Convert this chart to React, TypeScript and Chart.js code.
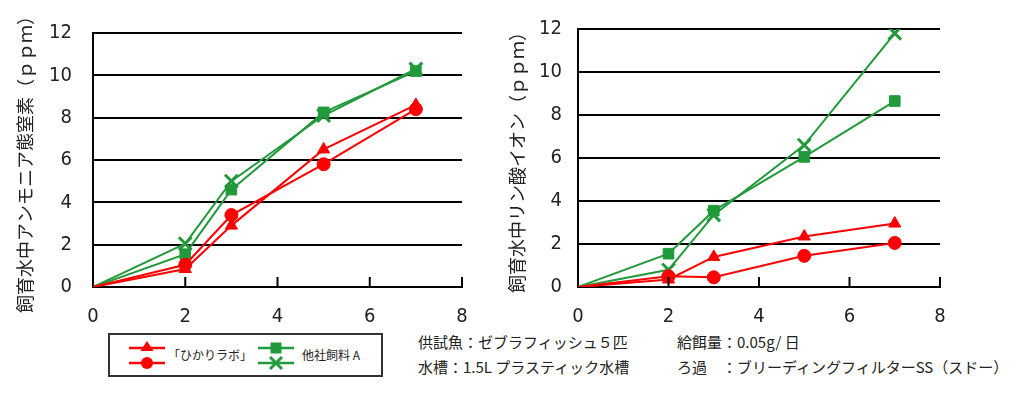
import React, { useEffect, useRef } from "react";
import { Chart, registerables } from "chart.js";

Chart.register(...registerables);

// ---- data ----
const days = [0, 2, 3, 5, 7];
const xTickValues = [0, 2, 4, 6, 8];
const yTickValues = [0, 2, 4, 6, 8, 10, 12];

// ammonia nitrogen (ppm)
const ammoniaHikariTri = [0, 0.85, 2.9, 6.5, 8.6];
const ammoniaHikariCircle = [0, 1.05, 3.4, 5.8, 8.4];
const ammoniaOtherSquare = [0, 1.55, 4.6, 8.25, 10.2];
const ammoniaOtherCross = [0, 2.05, 5.0, 8.1, 10.3];

// phosphate ion (ppm)
const phosphateHikariTri = [0, 0.35, 1.4, 2.35, 2.95];
const phosphateHikariCircle = [0, 0.5, 0.45, 1.45, 2.05];
const phosphateOtherSquare = [0, 1.55, 3.55, 6.05, 8.65];
const phosphateOtherCross = [0, 0.8, 3.35, 6.6, 11.8];

const leftTitle = "飼育水中アンモニア態窒素（ｐｐｍ）";
const rightTitle = "飼育水中リン酸イオン（ｐｐｍ）";
const seriesNames = ["「ひかりラボ」▲", "「ひかりラボ」●", "他社飼料 A ■", "他社飼料 A ×"];

const RED = "#ff0000";
const GREEN = "#22993a";
const NUM_FONT = "'Liberation Sans Narrow', 'DejaVu Sans Condensed', 'Liberation Sans', sans-serif";
const JP_FONT = "'Noto Sans CJK JP', sans-serif";

const toPts = (vals: number[]) => days.map((d, i) => ({ x: d, y: vals[i] }));

const innerTicks = {
  id: "innerTicks",
  afterDraw(chart: any) {
    const xs = chart.scales.x;
    const { ctx, chartArea } = chart;
    ctx.save();
    ctx.strokeStyle = "#000";
    ctx.lineWidth = 2;
    xTickValues.forEach((v) => {
      if (v === 0) return;
      const px = xs.getPixelForValue(v);
      ctx.beginPath();
      ctx.moveTo(px, chartArea.bottom);
      ctx.lineTo(px, chartArea.bottom - 10);
      ctx.stroke();
    });
    ctx.restore();
  },
};

const radiusSkipOrigin = (r: number) => (c: any) => (c.dataIndex === 0 ? 0 : r);

function makeDatasets(tri: number[], circ: number[], sq: number[], cross: number[]) {
  return [
    { label: seriesNames[0], data: toPts(tri), borderColor: RED, backgroundColor: RED, pointStyle: "triangle", pointRadius: radiusSkipOrigin(7), borderWidth: 2, pointBorderWidth: 1 },
    { label: seriesNames[1], data: toPts(circ), borderColor: RED, backgroundColor: RED, pointStyle: "circle", pointRadius: radiusSkipOrigin(6.5), borderWidth: 2, pointBorderWidth: 1 },
    { label: seriesNames[2], data: toPts(sq), borderColor: GREEN, backgroundColor: GREEN, pointStyle: "rect", pointRadius: radiusSkipOrigin(7.5), borderWidth: 2, pointBorderWidth: 1 },
    { label: seriesNames[3], data: toPts(cross), borderColor: GREEN, backgroundColor: GREEN, pointStyle: "crossRot", pointRadius: radiusSkipOrigin(9), borderWidth: 2, pointBorderWidth: 3 },
  ];
}

function makeConfig(datasets: any[], title: string, yWidth: number, titlePad: number, tickPad: number, padRight: number) {
  return {
    type: "line",
    data: { datasets },
    options: {
      animation: false,
      responsive: false,
      devicePixelRatio: 1,
      layout: { padding: { left: 0, right: padRight, top: 29, bottom: 8 } },
      plugins: { legend: { display: false }, tooltip: { enabled: false } },
      elements: { line: { tension: 0 } },
      scales: {
        x: {
          type: "linear",
          min: 0,
          max: 8,
          afterBuildTicks: (s: any) => { s.ticks = xTickValues.map((v) => ({ value: v })); },
          afterFit: (s: any) => { s.height = 35; },
          grid: { display: false },
          border: { display: true, color: "#000", width: 2 },
          ticks: { font: { family: NUM_FONT, size: 20 }, color: "#222", padding: 10, maxRotation: 0 },
        },
        y: {
          type: "linear",
          min: 0,
          max: 12,
          afterBuildTicks: (s: any) => { s.ticks = yTickValues.map((v) => ({ value: v })); },
          afterFit: (s: any) => { s.width = yWidth; },
          grid: { color: "#000", lineWidth: 2, drawTicks: false },
          border: { display: true, color: "#000", width: 2 },
          ticks: { font: { family: NUM_FONT, size: 20 }, color: "#222", padding: tickPad },
          title: { display: true, text: title, font: { family: JP_FONT, size: 18 }, color: "#222", padding: { top: titlePad, bottom: 0 } },
        },
      },
    },
    plugins: [innerTicks],
  };
}

function LineChart(props: { cfg: any; width: number; height: number; left: number }) {
  const ref = useRef<HTMLCanvasElement | null>(null);
  useEffect(() => {
    if (!ref.current) return;
    const chart = new Chart(ref.current, props.cfg);
    return () => chart.destroy();
  }, []);
  return (
    <canvas
      ref={ref}
      width={props.width}
      height={props.height}
      style={{ position: "absolute", left: props.left, top: 0, width: props.width, height: props.height }}
    />
  );
}

function Legend() {
  const lineY1 = 15;
  const lineY2 = 30;
  return (
    <div
      style={{
        position: "absolute",
        left: 108,
        top: 333,
        width: 275,
        height: 44,
        boxSizing: "border-box",
        border: "2px solid #333",
        background: "#fff",
      }}
    >
      <svg width={271} height={40} style={{ position: "absolute", left: 0, top: 0 }}>
        <line x1={19} x2={55} y1={lineY1 - 2} y2={lineY1 - 2} stroke={RED} strokeWidth={2.5} />
        <polygon points={`37,${lineY1 - 9} 43.5,${lineY1 + 1} 30.5,${lineY1 + 1}`} fill={RED} />
        <line x1={19} x2={55} y1={lineY2 - 2} y2={lineY2 - 2} stroke={RED} strokeWidth={2.5} />
        <circle cx={37} cy={lineY2 - 2} r={6} fill={RED} />
        <line x1={148} x2={184} y1={lineY1 - 2} y2={lineY1 - 2} stroke={GREEN} strokeWidth={2.5} />
        <rect x={160.5} y={lineY1 - 7.5} width={11} height={11} fill={GREEN} />
        <line x1={148} x2={184} y1={lineY2 - 2} y2={lineY2 - 2} stroke={GREEN} strokeWidth={2.5} />
        <line x1={160} x2={172} y1={lineY2 - 8} y2={lineY2 + 4} stroke={GREEN} strokeWidth={3} />
        <line x1={160} x2={172} y1={lineY2 + 4} y2={lineY2 - 8} stroke={GREEN} strokeWidth={3} />
      </svg>
      <span style={{ position: "absolute", left: 58, top: 12, fontSize: 12, lineHeight: "16px", fontFamily: JP_FONT, color: "#222", whiteSpace: "nowrap" }}>
        「ひかりラボ」
      </span>
      <span style={{ position: "absolute", left: 192, top: 12, fontSize: 12, lineHeight: "16px", fontFamily: JP_FONT, color: "#222", whiteSpace: "nowrap" }}>
        他社飼料 A
      </span>
    </div>
  );
}

const noteStyle = (left: number, top: number): React.CSSProperties => ({
  position: "absolute",
  left,
  top,
  fontSize: 15,
  lineHeight: "20px",
  fontFamily: JP_FONT,
  color: "#222",
  whiteSpace: "nowrap",
});

export default function App() {
  const leftCfg = makeConfig(
    makeDatasets(ammoniaHikariTri, ammoniaHikariCircle, ammoniaOtherSquare, ammoniaOtherCross),
    leftTitle, 93, 14, 21, 28
  );
  const rightCfg = makeConfig(
    makeDatasets(phosphateHikariTri, phosphateHikariCircle, phosphateOtherSquare, phosphateOtherCross),
    rightTitle, 88, 16, 16, 84
  );
  return (
    <div style={{ position: "fixed", left: 0, top: 0, width: 1024, height: 396, background: "#fff", overflow: "hidden" }}>
      <LineChart cfg={leftCfg} width={490} height={330} left={0} />
      <LineChart cfg={rightCfg} width={534} height={330} left={490} />
      <Legend />
      <div style={noteStyle(418, 332)}>供試魚：ゼブラフィッシュ５匹</div>
      <div style={noteStyle(418, 357)}>水槽：1.5L プラスティック水槽</div>
      <div style={noteStyle(677, 332)}>給餌量：0.05g/ 日</div>
      <div style={noteStyle(677, 357)}>ろ過　：ブリーディングフィルターSS（スドー）</div>
    </div>
  );
}
